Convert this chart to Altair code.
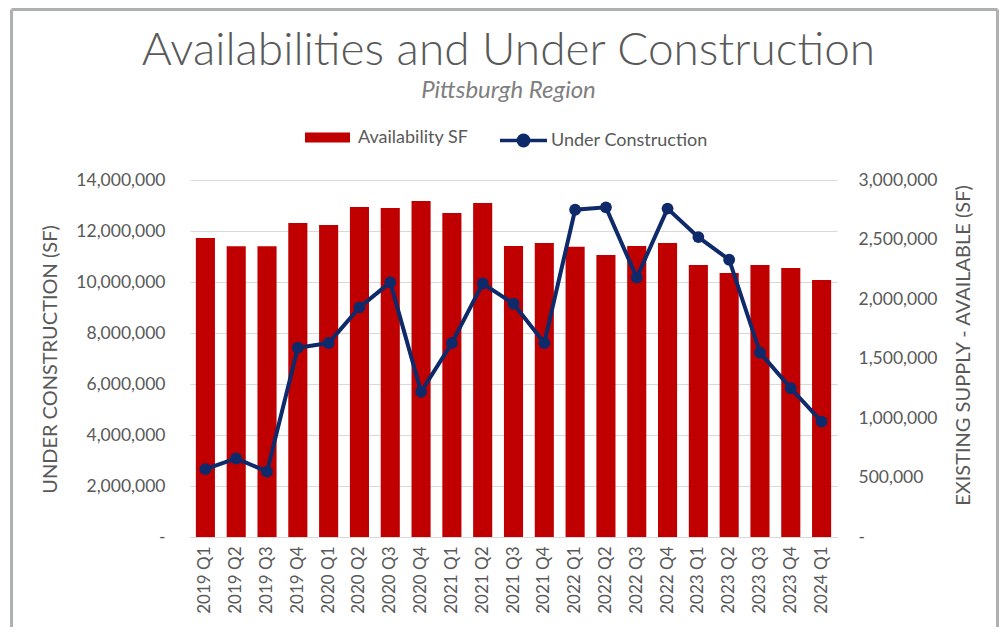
import altair as alt
import pandas as pd

quarters = ["2019 Q1", "2019 Q2", "2019 Q3", "2019 Q4", "2020 Q1", "2020 Q2", "2020 Q3",
            "2020 Q4", "2021 Q1", "2021 Q2", "2021 Q3", "2021 Q4", "2022 Q1", "2022 Q2",
            "2022 Q3", "2022 Q4", "2023 Q1", "2023 Q2", "2023 Q3", "2023 Q4", "2024 Q1"]
availability_sf = [11730000, 11400000, 11400000, 12310000, 12240000, 12940000, 12900000,
                   13180000, 12710000, 13100000, 11410000, 11530000, 11380000, 11060000,
                   11410000, 11530000, 10670000, 10350000, 10670000, 10550000, 10080000]
under_construction = [570000, 660000, 550000, 1590000, 1630000, 1930000, 2140000,
                      1220000, 1630000, 2130000, 1960000, 1630000, 2750000, 2770000,
                      2180000, 2760000, 2520000, 2330000, 1550000, 1250000, 970000]
left_ticks = [0, 2000000, 4000000, 6000000, 8000000, 10000000, 12000000, 14000000]
right_ticks = [0, 500000, 1000000, 1500000, 2000000, 2500000, 3000000]

RED = "#C00000"
NAVY = "#0E2A6A"
GRAY = "#595959"
FONT = "Lato"

df = pd.DataFrame({
    "quarter": quarters,
    "avail": availability_sf,
    "uc": under_construction,
    "s_bar": ["Availability SF"] * len(quarters),
    "s_line": ["Under Construction"] * len(quarters),
})

label_expr = "datum.value == 0 ? '-' : format(datum.value, ',')"

x_enc = alt.X(
    "quarter:N", sort=quarters, title=None,
    scale=alt.Scale(paddingInner=0.38, paddingOuter=0.19),
    axis=alt.Axis(labelAngle=270, labelFontSize=17, labelColor=GRAY, labelFont=FONT,
                  ticks=False, domainColor="#D9D9D9", labelPadding=9),
)

left_axis = alt.Axis(values=left_ticks, labelExpr=label_expr, title="UNDER CONSTRUCTION (SF)",
                     grid=True, gridColor="#D9D9D9", domain=False, ticks=False,
                     labelPadding=25, labelFontSize=17.5, labelColor=GRAY, labelFont=FONT,
                     titleFont=FONT, titleFontSize=20, titleFontWeight="normal", titleColor=GRAY,
                     titleX=-140, titleY=179, titleAngle=270, titleBaseline="middle",
                     titleAlign="center")
right_axis = alt.Axis(values=right_ticks, labelExpr=label_expr,
                      title="EXISTING SUPPLY - AVAILABLE (SF)", orient="right",
                      grid=False, domain=False, ticks=False,
                      labelPadding=21, labelFontSize=17.5, labelColor=GRAY, labelFont=FONT,
                      titleFont=FONT, titleFontSize=20, titleFontWeight="normal", titleColor=GRAY,
                      titleX=126, titleY=165, titleAngle=270, titleBaseline="middle",
                      titleAlign="center")

bar_legend = alt.Legend(orient="none", legendX=115, legendY=-65, title=None, padding=0,
                        symbolType="M-1,-0.22L1,-0.22L1,0.22L-1,0.22Z", symbolSize=2025,
                        symbolStrokeWidth=0, labelFont=FONT, labelFontSize=18,
                        labelColor=GRAY, labelOffset=8)
line_legend = alt.Legend(orient="none", legendX=308, legendY=-65, title=None, padding=0,
                         symbolType="M-1,0L1,0M0.22,0A0.22,0.22 0 1,1 -0.22,0A0.22,0.22 0 1,1 0.22,0Z",
                         symbolSize=2209, symbolStrokeWidth=3.5,
                         symbolFillColor=NAVY, symbolStrokeColor=NAVY,
                         labelFont=FONT, labelFontSize=18, labelColor=GRAY, labelOffset=2)

bars = alt.Chart(df).mark_bar().encode(
    x=x_enc,
    y=alt.Y("avail:Q", scale=alt.Scale(domain=[0, 14000000]), axis=left_axis),
    color=alt.Color("s_bar:N", scale=alt.Scale(domain=["Availability SF"], range=[RED]),
                    legend=bar_legend),
)

uc_scale = alt.Scale(domain=[0, 3000000])
line = alt.Chart(df).mark_line(strokeWidth=4).encode(
    x=x_enc,
    y=alt.Y("uc:Q", scale=uc_scale, axis=right_axis),
    stroke=alt.Stroke("s_line:N", scale=alt.Scale(domain=["Under Construction"], range=[NAVY]),
                      legend=line_legend),
)
points = alt.Chart(df).mark_point(filled=True, size=140, opacity=1).encode(
    x=x_enc,
    y=alt.Y("uc:Q", scale=uc_scale, axis=right_axis),
    fill=alt.Fill("s_line:N", scale=alt.Scale(domain=["Under Construction"], range=[NAVY]),
                  legend=line_legend),
)

frame_df = pd.DataFrame({"k": [0]})
FRAME = "#ADB1AF"
frame_left = alt.Chart(frame_df).mark_rule(color=FRAME, strokeWidth=3).encode(
    x=alt.value(-178.5), y=alt.value(-170.5), y2=alt.value(447))
frame_top = alt.Chart(frame_df).mark_rule(color=FRAME, strokeWidth=3).encode(
    x=alt.value(-178.5), x2=alt.value(807.5), y=alt.value(-170.5))
frame_right = alt.Chart(frame_df).mark_rule(color=FRAME, strokeWidth=3).encode(
    x=alt.value(807.5), y=alt.value(-170.5), y2=alt.value(447))

chart = alt.layer(
    bars,
    alt.layer(line, points),
    frame_left, frame_top, frame_right,
).resolve_scale(y="independent").properties(
    width=647, height=357,
    padding={"left": 2, "top": 0, "right": 0, "bottom": 0},
    title=alt.TitleParams(
        "Availabilities and Under Construction",
        subtitle="Pittsburgh Region",
        font=FONT, fontSize=46, fontWeight=300, color=GRAY,
        subtitleFont=FONT, subtitleFontSize=24, subtitleFontStyle="italic",
        subtitleColor="#7F7F7F", anchor="middle", offset=-96, subtitlePadding=4, dx=-5,
    ),
).configure(background="white", view=alt.ViewConfig(strokeWidth=0))

chart.save("out.html", embed_options={"renderer": "svg", "actions": False})
